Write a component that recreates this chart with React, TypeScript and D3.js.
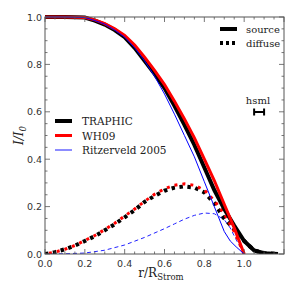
import React from 'react';
import * as d3 from 'd3';

// source (solid) profiles
const rTraphic = [0, 0.1, 0.2, 0.25, 0.3, 0.35, 0.4, 0.45, 0.5, 0.55, 0.6, 0.65, 0.7, 0.75, 0.8, 0.85, 0.9, 0.95, 1.0, 1.05, 1.1, 1.17];
const srcTraphic = [1, 1, 0.998, 0.985, 0.968, 0.945, 0.915, 0.87, 0.815, 0.76, 0.7, 0.625, 0.545, 0.46, 0.365, 0.27, 0.19, 0.12, 0.055, 0.015, 0.003, 0];

const rWH09 = [0, 0.1, 0.2, 0.25, 0.3, 0.35, 0.4, 0.45, 0.5, 0.55, 0.6, 0.65, 0.7, 0.75, 0.8, 0.85, 0.9, 0.95, 1.0];
const srcWH09 = [1, 1, 0.998, 0.988, 0.972, 0.95, 0.922, 0.882, 0.83, 0.775, 0.715, 0.645, 0.57, 0.49, 0.4, 0.31, 0.21, 0.11, 0];

const rRitz = [0, 0.1, 0.2, 0.25, 0.3, 0.35, 0.4, 0.45, 0.5, 0.55, 0.6, 0.65, 0.7, 0.75, 0.8, 0.85, 0.9, 0.93, 0.96, 1.0];
const srcRitz = [1, 1, 0.998, 0.985, 0.97, 0.945, 0.915, 0.87, 0.815, 0.75, 0.675, 0.59, 0.5, 0.41, 0.305, 0.2, 0.095, 0.055, 0.03, 0];

// diffuse (dotted / dashed) profiles
const rDiffTraphic = [0, 0.05, 0.1, 0.15, 0.2, 0.25, 0.3, 0.35, 0.4, 0.45, 0.5, 0.55, 0.6, 0.65, 0.7, 0.75, 0.8, 0.85, 0.9, 0.95, 1.0, 1.05, 1.1, 1.17];
const difTraphic = [0, 0.008, 0.02, 0.035, 0.055, 0.075, 0.1, 0.125, 0.155, 0.185, 0.22, 0.245, 0.267, 0.28, 0.285, 0.28, 0.26, 0.215, 0.15, 0.105, 0.055, 0.015, 0.004, 0];

const rDiffWH09 = [0, 0.05, 0.1, 0.15, 0.2, 0.25, 0.3, 0.35, 0.4, 0.45, 0.5, 0.55, 0.6, 0.65, 0.7, 0.75, 0.8, 0.85, 0.9, 0.95, 1.0];
const difWH09 = [0, 0.008, 0.02, 0.036, 0.057, 0.078, 0.103, 0.13, 0.16, 0.19, 0.222, 0.252, 0.275, 0.29, 0.296, 0.29, 0.27, 0.225, 0.17, 0.095, 0];

const rDiffRitz = [0, 0.1, 0.2, 0.3, 0.4, 0.5, 0.6, 0.65, 0.7, 0.75, 0.8, 0.85, 0.9, 0.93, 0.96, 1.0];
const difRitz = [0, 0.001, 0.004, 0.016, 0.038, 0.07, 0.107, 0.127, 0.147, 0.163, 0.173, 0.17, 0.145, 0.11, 0.06, 0];

const xMajor = [0, 0.2, 0.4, 0.6, 0.8, 1.0];
const yMajor = [0, 0.2, 0.4, 0.6, 0.8, 1.0];
const legendLabels = ['TRAPHIC', 'WH09', 'Ritzerveld 2005'];
const hsml = 0.05;

const W = 287;
const H = 287;
const m = { left: 45, right: 3, top: 17, bottom: 33 };

export default function App() {
  const x = d3.scaleLinear().domain([0, 1.2]).range([m.left, W - m.right]);
  const y = d3.scaleLinear().domain([0, 1]).range([H - m.bottom, m.top]);
  const line = (rs: number[], vs: number[]) =>
    d3.line<number>().x((_d, i) => x(rs[i])).y((d) => y(d))(vs) || '';

  const minorX = d3.range(0, 1.2001, 0.05);
  const minorY = d3.range(0, 1.0001, 0.05);
  const axisCol = '#555';
  const tickFont = { fontFamily: 'DejaVu Sans', fontSize: 9.5, fill: '#333' };
  const x0 = x(0), x1 = x(1.2), y0 = y(0), y1 = y(1);

  const legendCols = ['#000', '#f00', '#66f'];
  const legendW = [4, 3, 1.5];

  return (
    <div style={{ position: 'absolute', left: 0, top: 0 }}>
      <svg width={W} height={H} style={{ display: 'block', background: '#fff' }}>
        <g clipPath="url(#clip)">
          <clipPath id="clip">
            <rect x={x0} y={y1 - 5} width={x1 - x0} height={y0 - y1 + 5} />
          </clipPath>
          {/* diffuse */}
          <path d={line(rDiffRitz, difRitz)} fill="none" stroke="#22f" strokeWidth={1} strokeDasharray="4,3" />
          <path d={line(rDiffTraphic, difTraphic)} fill="none" stroke="#000" strokeWidth={4} strokeDasharray="3.5,4.5" />
          <path d={line(rDiffWH09, difWH09)} fill="none" stroke="#f00" strokeWidth={3} strokeDasharray="3,5" strokeDashoffset={4} />
          {/* source */}
          <path d={line(rTraphic, srcTraphic)} fill="none" stroke="#000" strokeWidth={4} />
          <path d={line(rWH09, srcWH09)} fill="none" stroke="#f00" strokeWidth={3} />
          <path d={line(rRitz, srcRitz)} fill="none" stroke="#00f" strokeWidth={1} />
        </g>

        {/* frame */}
        <rect x={x0} y={y1} width={x1 - x0} height={y0 - y1} fill="none" stroke={axisCol} strokeWidth={1} />
        {minorX.map((v, i) => {
          const major = Math.abs(v / 0.2 - Math.round(v / 0.2)) < 1e-6;
          const l = major ? 5 : 2.5;
          return (
            <g key={'xt' + i} stroke={axisCol} strokeWidth={0.8}>
              <line x1={x(v)} x2={x(v)} y1={y0} y2={y0 - l} />
              <line x1={x(v)} x2={x(v)} y1={y1} y2={y1 + l} />
            </g>
          );
        })}
        {minorY.map((v, i) => {
          const major = Math.abs(v / 0.2 - Math.round(v / 0.2)) < 1e-6;
          const l = major ? 5 : 2.5;
          return (
            <g key={'yt' + i} stroke={axisCol} strokeWidth={0.8}>
              <line x1={x0} x2={x0 + l} y1={y(v)} y2={y(v)} />
              <line x1={x1} x2={x1 - l} y1={y(v)} y2={y(v)} />
            </g>
          );
        })}
        {xMajor.map((v) => (
          <text key={'xl' + v} x={x(v)} y={y0 + 13} textAnchor="middle" {...tickFont}>
            {v.toFixed(1)}
          </text>
        ))}
        {yMajor.map((v) => (
          <text key={'yl' + v} x={x0 - 3} y={y(v) + 3.5} textAnchor="end" {...tickFont}>
            {v.toFixed(1)}
          </text>
        ))}

        {/* axis labels */}
        <text
          transform={`translate(23, ${(y0 + y1) / 2}) rotate(-90)`}
          textAnchor="middle"
          fontFamily="DejaVu Serif"
          fontStyle="italic"
          fontSize={12}
          fill="#222"
        >
          I/I<tspan fontSize={8.5} dy={3}>0</tspan>
        </text>
        <text x={161} y={277} textAnchor="middle" fontFamily="DejaVu Serif" fontSize={12} fill="#222">
          r/R<tspan fontSize={8.5} dy={3}>Strom</tspan>
        </text>

        {/* left legend */}
        {legendLabels.map((lab, i) => {
          const ly = 121 + i * 14.5;
          return (
            <g key={lab}>
              <line x1={55} x2={72} y1={ly} y2={ly} stroke={legendCols[i]} strokeWidth={legendW[i]} />
              <text x={82} y={ly + 4} fontFamily="DejaVu Serif" fontSize={10.5} fill="#222">
                {lab}
              </text>
            </g>
          );
        })}

        {/* right legend */}
        <line x1={220} x2={237} y1={29} y2={29} stroke="#000" strokeWidth={4} />
        <text x={246} y={32.5} fontFamily="DejaVu Serif" fontSize={10} fill="#222">source</text>
        <line x1={220} x2={237} y1={43} y2={43} stroke="#000" strokeWidth={4} strokeDasharray="3,3" />
        <text x={246} y={46.5} fontFamily="DejaVu Serif" fontSize={10} fill="#222">diffuse</text>

        {/* hsml bar */}
        <text x={258} y={104} textAnchor="middle" fontFamily="DejaVu Serif" fontSize={10} fill="#222">hsml</text>
        <g stroke="#000" strokeWidth={2}>
          <line x1={x(1.05)} x2={x(1.05 + hsml)} y1={112} y2={112} />
          <line x1={x(1.05)} x2={x(1.05)} y1={108.5} y2={115.5} />
          <line x1={x(1.05 + hsml)} x2={x(1.05 + hsml)} y1={108.5} y2={115.5} />
        </g>
      </svg>
    </div>
  );
}
